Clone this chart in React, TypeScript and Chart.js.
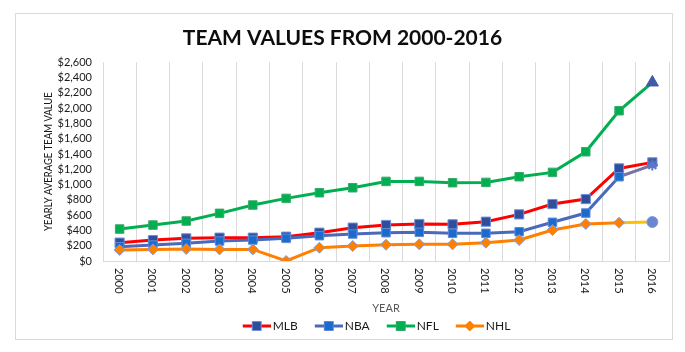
import React, { useEffect, useRef } from "react";
import { Chart, registerables } from "chart.js";

Chart.register(...registerables);

// ---- data ----
const years = ["2000", "2001", "2002", "2003", "2004", "2005", "2006", "2007", "2008", "2009", "2010", "2011", "2012", "2013", "2014", "2015", "2016"];
const mlbValues = [240, 274, 296, 305, 305, 318, 370, 436, 471, 484, 480, 514, 610, 745, 810, 1211, 1290];
const nbaValues = [187, 209, 231, 261, 274, 296, 331, 353, 370, 375, 362, 362, 383, 506, 627, 1102, 1255];
const nflValues = [418, 470, 523, 623, 732, 819, 893, 958, 1041, 1041, 1024, 1028, 1102, 1159, 1429, 1965, 2335];
const nhlValues = [144, 152, 157, 152, 152, 0, 174, 196, 213, 218, 218, 240, 274, 405, 484, 501, 510];
const seriesNames = ["MLB", "NBA", "NFL", "NHL"];
const yMin = 0;
const yMax = 2600;
const yStep = 200;
const chartTitle = "TEAM VALUES FROM 2000-2016";
const xAxisTitle = "YEAR";
const yAxisTitle = "YEARLY AVERAGE TEAM VALUE";

const FONT = "Lato";
const TEXT = "#1a1a1a";

function makeIcon(lineColor: string, fill: string, stroke: string, shape: "rect" | "diamond"): HTMLCanvasElement {
  const c = document.createElement("canvas");
  c.width = 32;
  c.height = 12;
  const g = c.getContext("2d")!;
  g.strokeStyle = lineColor;
  g.lineWidth = 3;
  g.beginPath();
  g.moveTo(4, 6);
  g.lineTo(32, 6);
  g.stroke();
  g.fillStyle = fill;
  g.strokeStyle = stroke;
  g.lineWidth = 1;
  g.beginPath();
  if (shape === "rect") {
    g.rect(13.5, 1.5, 9, 9);
  } else {
    g.moveTo(18, 1);
    g.lineTo(23, 6);
    g.lineTo(18, 11);
    g.lineTo(13, 6);
    g.closePath();
  }
  g.fill();
  g.stroke();
  return c;
}

const frameAndLabels = {
  id: "frameAndLabels",
  beforeDraw(chart: any) {
    const ctx = chart.ctx;
    ctx.save();
    ctx.fillStyle = "#ffffff";
    ctx.fillRect(0, 0, chart.width, chart.height);
    ctx.strokeStyle = "#d9d9d9";
    ctx.lineWidth = 1;
    ctx.strokeRect(15.5, 13.5, 657, 326);
    ctx.restore();
  },
  afterLayout(chart: any) {
    if (chart.legend) {
      chart.legend.left = 84;
      chart.legend.right = 669;
    }
  },
  afterDraw(chart: any) {
    const s = chart.scales.x;
    const area = chart.chartArea;
    const ctx = chart.ctx;
    ctx.save();
    ctx.font = `11px ${FONT}`;
    ctx.fillStyle = TEXT;
    ctx.textAlign = "left";
    ctx.textBaseline = "middle";
    s.ticks.forEach((t: any, i: number) => {
      const x = s.getPixelForTick(i);
      ctx.save();
      ctx.translate(x - 1, s.top + 7);
      ctx.rotate(Math.PI / 2);
      ctx.fillText(String(s.getLabelForValue(t.value)), 0, 0);
      ctx.restore();
    });
    // x axis title
    ctx.fillStyle = "#595959";
    ctx.textAlign = "center";
    ctx.fillText(xAxisTitle, (area.left + area.right) / 2, s.top + 47);
    // y axis title
    ctx.fillStyle = TEXT;
    ctx.font = `11px ${FONT}`;
    ctx.save();
    ctx.translate(48, (area.top + area.bottom) / 2);
    ctx.rotate(-Math.PI / 2);
    ctx.scale(0.86, 1);
    ctx.fillText(yAxisTitle, 0, 0);
    ctx.restore();
    ctx.restore();
  },
};

export default function App() {
  const ref = useRef<HTMLCanvasElement | null>(null);

  useEffect(() => {
    document.body.style.margin = "0";
    const last = years.length - 1;
    const icons = [
      makeIcon("#ff0000", "#2f4e9c", "#6f8fd8", "rect"),
      makeIcon("#4a69bb", "#1a6ccc", "#5e88d8", "rect"),
      makeIcon("#00b050", "#00b050", "#3aa86a", "rect"),
      makeIcon("#ff8000", "#ff8000", "#ff8000", "diamond"),
    ];

    const chart = new Chart(ref.current!, {
      type: "line",
      data: {
        labels: years,
        datasets: [
          {
            label: seriesNames[0],
            data: mlbValues,
            order: 3,
            borderColor: "#ff0000",
            backgroundColor: "#2f4e9c",
            borderWidth: 3,
            tension: 0,
            pointStyle: "rect",
            pointRadius: 6.5,
            pointBackgroundColor: (c: any) => (c.dataIndex === last ? "#3d5aa8" : "#2f4e9c"),
            pointBorderColor: "#6f8fd8",
            pointBorderWidth: 1,
          },
          {
            label: seriesNames[1],
            data: nbaValues,
            order: 2,
            borderColor: "#4a69bb",
            backgroundColor: "#1a6ccc",
            borderWidth: 3,
            tension: 0,
            segment: {
              borderColor: (c: any) => (c.p1DataIndex === last ? "#7673aa" : undefined),
            },
            pointStyle: (c: any) => (c.dataIndex === last ? "star" : "rect"),
            pointRadius: (c: any) => (c.dataIndex === last ? 5.5 : 6),
            pointBackgroundColor: "#1a6ccc",
            pointBorderColor: (c: any) => (c.dataIndex === last ? "#5b76c6" : "#5e88d8"),
            pointBorderWidth: (c: any) => (c.dataIndex === last ? 2 : 1),
          },
          {
            label: seriesNames[2],
            data: nflValues,
            order: 1,
            borderColor: "#00b050",
            backgroundColor: "#00b050",
            borderWidth: 3,
            tension: 0,
            pointStyle: (c: any) => (c.dataIndex === last ? "triangle" : "rect"),
            pointRadius: (c: any) => (c.dataIndex === last ? 7 : 6),
            pointBackgroundColor: (c: any) => (c.dataIndex === last ? "#3e5aa8" : "#00b050"),
            pointBorderColor: (c: any) => (c.dataIndex === last ? "#3e5aa8" : "#3aa86a"),
            pointBorderWidth: 1,
          },
          {
            label: seriesNames[3],
            data: nhlValues,
            order: 0,
            borderColor: "#ff8000",
            backgroundColor: "#ff8000",
            borderWidth: 3,
            tension: 0,
            segment: {
              borderColor: (c: any) => (c.p1DataIndex === last ? "#ffc000" : undefined),
            },
            pointStyle: (c: any) => (c.dataIndex === last ? "circle" : "rectRot"),
            pointRadius: 5.5,
            pointBackgroundColor: (c: any) => (c.dataIndex === last ? "#6a86d0" : "#ff8000"),
            pointBorderColor: "#7f9fe0",
            pointBorderWidth: 1,
          },
        ],
      },
      options: {
        animation: false,
        responsive: false,
        devicePixelRatio: 1,
        layout: { padding: { left: 16, right: 16, top: 0, bottom: 10 } },
        plugins: {
          title: {
            display: true,
            text: chartTitle,
            color: "#0d0d0d",
            font: { family: FONT, size: 21, weight: "bold" },
            padding: { top: 26, bottom: 11 },
          },
          legend: {
            position: "bottom",
            align: "center",
            labels: {
              usePointStyle: true,
              pointStyleWidth: 24,
              padding: 17,
              color: TEXT,
              font: { family: FONT, size: 12 },
              generateLabels: () =>
                seriesNames.map((name, i) => ({
                  text: name,
                  pointStyle: icons[i] as any,
                  fillStyle: "transparent",
                  strokeStyle: "transparent",
                  lineWidth: 0,
                  hidden: false,
                  datasetIndex: i,
                  fontColor: TEXT,
                })),
            },
          },
          tooltip: { enabled: false },
        },
        scales: {
          x: {
            offset: true,
            grid: { display: true, offset: true, color: "#d9d9d9", lineWidth: 1, drawTicks: false },
            border: { display: true, color: "#d9d9d9" },
            ticks: { display: false },
            afterFit: (s: any) => {
              s.height = 42;
            },
          },
          y: {
            min: yMin,
            max: yMax,
            grid: { display: false, drawTicks: false },
            border: { display: false },
            ticks: {
              stepSize: yStep,
              autoSkip: false,
              padding: 11,
              color: TEXT,
              font: { family: FONT, size: 11 },
              callback: (v: any) => "$" + Number(v).toLocaleString("en-US"),
            },
            afterFit: (s: any) => {
              s.width = 87;
            },
          },
        },
      },
      plugins: [frameAndLabels],
    } as any);

    return () => chart.destroy();
  }, []);

  return (
    <div style={{ width: 685, height: 352 }}>
      <canvas ref={ref} width={685} height={352} style={{ display: "block" }} />
    </div>
  );
}
